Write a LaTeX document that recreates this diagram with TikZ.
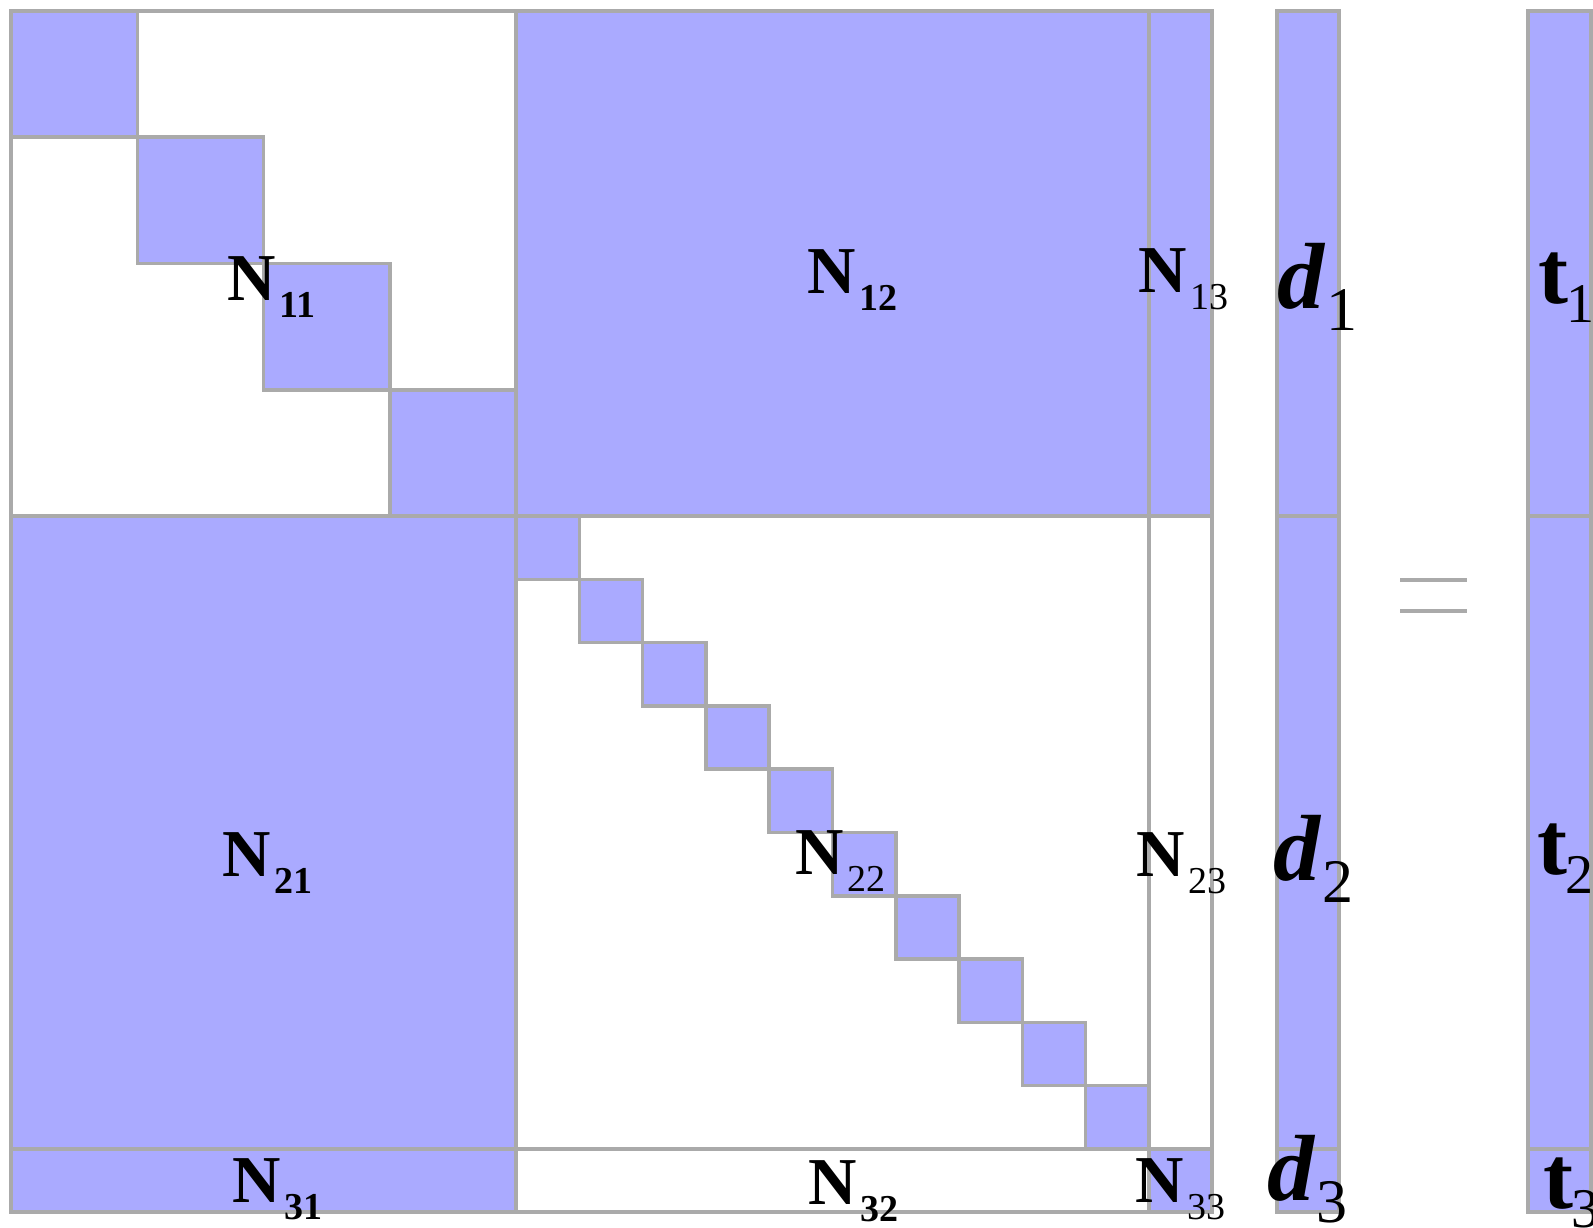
\documentclass[tikz,border=0pt]{standalone}
\usepackage{fontspec}
\setmainfont{Liberation Serif}
\definecolor{blokblue}{rgb}{0.667, 0.667, 1.0}
\definecolor{rimgray}{rgb}{0.667, 0.667, 0.667}
% subscripts of the labels
\newcommand{\nsub}[1]{\kern4pt\raisebox{-17pt}{\fontsize{38}{38}\selectfont #1}}
\newcommand{\dsub}[1]{\kern2pt\raisebox{-22pt}{\fontsize{62}{62}\selectfont\mdseries\upshape #1}}
\newcommand{\tsub}[1]{\kern-2pt\raisebox{-19pt}{\fontsize{56}{56}\selectfont\mdseries #1}}

\begin{document}
\begin{tikzpicture}[x=1pt, y=-1pt,
    blk/.style = {fill = blokblue, draw = rimgray, line width = 3.5pt},
    rim/.style = {draw = rimgray, line width = 3.5pt},
    lbl/.style = {anchor = base west, inner sep = 0pt, font = \fontsize{67}{67}\selectfont\bfseries},
    vlbl/.style = {anchor = base west, inner sep = 0pt, font = \fontsize{94}{94}\selectfont\bfseries\itshape},
    tlbl/.style = {anchor = base west, inner sep = 0pt, font = \fontsize{90}{90}\selectfont\bfseries}]
        \useasboundingbox (0,0) rectangle (1593,1228);

        % full blocks
        \draw [blk] (516,11) rectangle (1149,516);
        \draw [blk] (1149,11) rectangle (1212,516);
        \draw [blk] (11,516) rectangle (516,1149);
        \draw [blk] (11,1149) rectangle (516,1212);
        \draw [blk] (1149,1149) rectangle (1212,1212);

        % sparse blocks
        \draw [rim] (11,11) rectangle (516,516);
        \draw [rim] (516,516) rectangle (1149,1149);
        \draw [rim] (1149,516) rectangle (1212,1149);
        \draw [rim] (516,1149) rectangle (1149,1212);

        \foreach \i in {0, ..., 3}
        {
            \draw [blk] ({11+126.25*\i}, {11+126.25*\i}) rectangle +(126.25,126.25);
        }
        \foreach \i in {0, ..., 9}
        {
            \draw [blk] ({516+63.3*\i}, {516+63.3*\i}) rectangle +(63.3,63.3);
        }

        % vectors
        \foreach \a/\b in {11/516, 516/1149, 1149/1212}
        {
            \draw [blk] (1277,\a) rectangle (1339,\b);
            \draw [blk] (1528,\a) rectangle (1591,\b);
        }

        % equals sign
        \draw [rim, line width = 4pt] (1400,580) -- (1467,580);
        \draw [rim, line width = 4pt] (1400,611) -- (1467,611);

        \node (n11) [lbl] at (227,300) {N\nsub{11}};
        \node (n12) [lbl] at (807,293) {N\nsub{12}};
        \node (n13) [lbl] at (1138,292) {N\nsub{\mdseries 13}};
        \node (n21) [lbl] at (222,876) {N\nsub{21}};
        \node (n22) [lbl] at (795,874) {N\nsub{\mdseries 22}};
        \node (n23) [lbl] at (1136,876) {N\nsub{\mdseries 23}};
        \node (n31) [lbl] at (232,1202) {N\nsub{31}};
        \node (n32) [lbl] at (808,1204) {N\nsub{32}};
        \node (n33) [lbl] at (1135,1202) {N\nsub{\mdseries 33}};

        \node (d1) [vlbl] at (1277,308) {d\dsub{1}};
        \node (d2) [vlbl] at (1273,880) {d\dsub{2}};
        \node (d3) [vlbl] at (1267,1200) {d\dsub{3}};

        \node (t1) [tlbl] at (1538,303) {t\tsub{1}};
        \node (t2) [tlbl] at (1537,874) {t\tsub{2}};
        \node (t3) [tlbl] at (1543,1208) {t\tsub{3}};
\end{tikzpicture}
\end{document}
